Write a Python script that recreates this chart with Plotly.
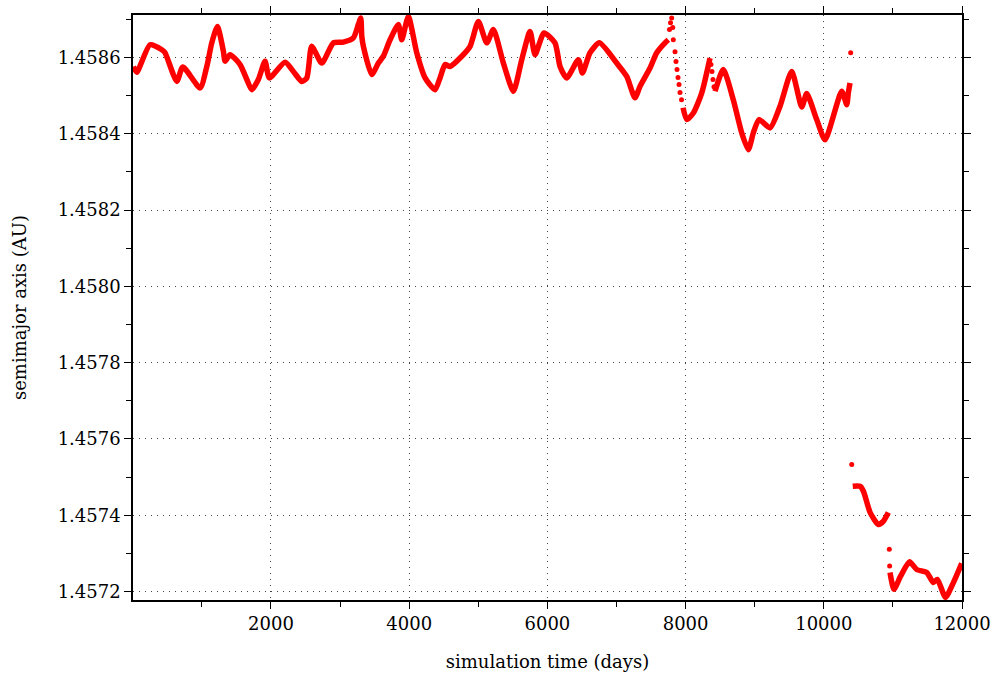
import plotly.graph_objects as go

# continuous parts of the curve (None separates pieces)
time = [9, 58, 250, 420, 467, 637, 724, 974, 1071, 1143, 1224, 1311, 1336, 1408, 1553, 1650, 1722,
        1817, 1914, 1977, 2204, 2324, 2445, 2518, 2590, 2735, 2903, 3047, 3192, 3264, 3299, 3314,
        3337, 3458, 3554, 3626, 3723, 3843, 3892, 3988, 4109, 4230, 4374, 4446, 4519, 4591, 4761,
        4881, 5001, 5123, 5218, 5363, 5508, 5629, 5749, 5821, 5951, 6110, 6183, 6280, 6448, 6506,
        6617, 6752, 7003, 7148, 7268, 7340, 7485, 7582, 7702, 7750,
        None,
        7963, 8016, 8112, 8234, 8353,
        None,
        8426, 8546, 8690, 8812, 8908, 8980, 9063, 9222, 9367, 9536, 9681, 9753, 9897, 10018, 10259,
        10332, 10355, 10379,
        None,
        10419, 10524, 10574, 10671, 10789, 10864, 10934,
        None,
        10958, 11016, 11113, 11240, 11344, 11489, 11585, 11643, 11761, 11874, 11996]
a = [1.458576, 1.458561, 1.458633, 1.458620, 1.458612, 1.458537, 1.458575, 1.458520, 1.458576,
     1.458638, 1.458681, 1.458616, 1.458590, 1.458607, 1.458581, 1.458542, 1.458515, 1.458542,
     1.458590, 1.458546, 1.458587, 1.458563, 1.458537, 1.458546, 1.458629, 1.458585, 1.458638,
     1.458640, 1.458651, 1.458686, 1.458703, 1.458655, 1.458629, 1.458555, 1.458585, 1.458603,
     1.458646, 1.458686, 1.458646, 1.458707, 1.458612, 1.458546, 1.458515, 1.458546, 1.458581,
     1.458576, 1.458603, 1.458629, 1.458694, 1.458638, 1.458673, 1.458585, 1.458511, 1.458594,
     1.458668, 1.458607, 1.458664, 1.458638, 1.458576, 1.458546, 1.458594, 1.458559, 1.458612,
     1.458638, 1.458585, 1.458550, 1.458494, 1.458524, 1.458572, 1.458612, 1.458638, 1.458646,
     None,
     1.458468, 1.458437, 1.458454, 1.458507, 1.458598,
     None,
     1.458511, 1.458568, 1.458489, 1.458402, 1.458358, 1.458402, 1.458437, 1.458415, 1.458472,
     1.458563, 1.458470, 1.458505, 1.458437, 1.458384, 1.458511, 1.458476, 1.458507, 1.458533,
     None,
     1.457476, 1.457476, 1.457463, 1.457407, 1.457376, 1.457385, 1.457407,
     None,
     1.457250, 1.457206, 1.457241, 1.457278, 1.457258, 1.457250, 1.457224, 1.457232, 1.457185,
     1.457223, 1.457274]

# sparse isolated samples
dot_time = [7767, 7782, 7799, 7814, 7822, 7847, 7861, 7876, 7890, 7905, 7919, 7941,
            8367, 8382, 8396, 8411, 10389, 10404, 10948, 10953]
dot_a = [1.458673, 1.458691, 1.458703, 1.458678, 1.458646, 1.458615, 1.458589, 1.458568,
         1.458547, 1.458529, 1.458508, 1.458489,
         1.458581, 1.458563, 1.458542, 1.458523, 1.458612, 1.457533, 1.457311, 1.457267]

x_ticks = [2000, 4000, 6000, 8000, 10000, 12000]
y_ticks = [1.4572, 1.4574, 1.4576, 1.4578, 1.4580, 1.4582, 1.4584, 1.4586]

RED = "#ff0000"
FONT = "DejaVu Serif"

fig = go.Figure()
fig.add_trace(go.Scatter(x=time, y=a, mode="lines", connectgaps=False,
                         line=dict(color=RED, width=5.5, shape="spline", smoothing=0.6),
                         showlegend=False, hoverinfo="skip"))
fig.add_trace(go.Scatter(x=dot_time, y=dot_a, mode="markers",
                         marker=dict(color=RED, size=5),
                         showlegend=False))

axis_common = dict(showline=True, linecolor="black", linewidth=1.5, mirror="ticks",
                   ticks="outside", ticklen=7, tickwidth=1, tickcolor="black",
                   showgrid=True, gridcolor="#444", gridwidth=1, griddash="1px,5px",
                   zeroline=False, automargin=False,
                   tickfont=dict(family=FONT, size=18, color="black"))

fig.update_xaxes(range=[3, 12000], tickvals=x_ticks, ticktext=[str(v) for v in x_ticks],
                 minor=dict(dtick=1000, tick0=0, ticks="outside", ticklen=5, tickcolor="black",
                            showgrid=False),
                 title=dict(text="simulation time (days)", font=dict(family=FONT, size=18, color="black"),
                            standoff=22),
                 **axis_common)
fig.update_yaxes(range=[1.457178, 1.458711], tickvals=y_ticks,
                 ticktext=[f"{v:.4f}" for v in y_ticks],
                 minor=dict(dtick=0.0001, tick0=1.4572, ticks="outside", ticklen=5, tickcolor="black",
                            showgrid=False),
                 title=dict(text="semimajor axis (AU)", font=dict(family=FONT, size=18, color="black"),
                            standoff=26),
                 **axis_common)

fig.update_layout(width=993, height=675, margin=dict(l=133, r=31, t=15, b=75),
                  plot_bgcolor="white", paper_bgcolor="white")

fig.write_html("out.html", config={"displayModeBar": False},
               post_script="document.body.style.margin='0';document.body.style.overflow='hidden';")
